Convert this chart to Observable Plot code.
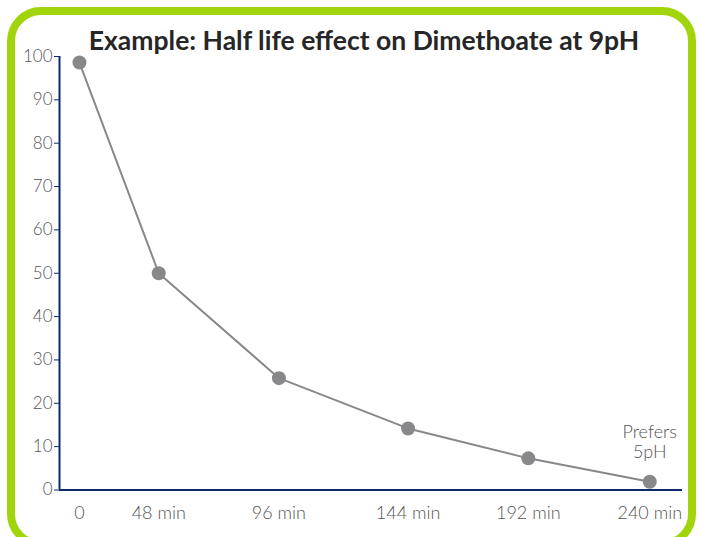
<!DOCTYPE html>
<html><head><meta charset="utf-8">
<script src="https://cdn.jsdelivr.net/npm/d3@7"></script>
<script src="https://cdn.jsdelivr.net/npm/@observablehq/plot@0.6"></script>
<style>
html,body{margin:0;padding:0;background:#fff;overflow:hidden}
#wrap{position:relative;width:701px;height:537px;overflow:hidden;background:#fff}
#frame{position:absolute;left:7px;top:7px;width:673px;height:525px;border:8px solid #a2d40c;border-radius:34px}
#title{position:absolute;left:0;top:24px;width:728px;text-align:center;font-family:Lato,sans-serif;font-weight:700;font-size:26.5px;line-height:32px;color:#262626}
#chart{position:absolute;left:0;top:0}
</style></head>
<body>
<div id="wrap"><div id="frame"></div><div id="chart"></div><div id="title">Example: Half life effect on Dimethoate at 9pH</div></div>
<script>
// Categories (time labels) and their plotted positions
const xLabels = ["0", "48 min", "96 min", "144 min", "192 min", "240 min"];
const xPlot = [17, 48, 95, 145.5, 192.5, 240];
// Remaining percentage
const values = [98.6, 50.0, 25.8, 14.2, 7.3, 1.9];
const yTicks = [0, 10, 20, 30, 40, 50, 60, 70, 80, 90, 100];
const annotation = ["Prefers\n5pH"];

const data = xLabels.map((label, i) => ({label, pos: xPlot[i], value: values[i]}));
const xDomain = [9.2, 252.8];
const navy = "#0b2a6b";
const grey = "#88888b";

const chart = Plot.plot({
  width: 701, height: 537,
  marginLeft: 59, marginRight: 19, marginTop: 56, marginBottom: 47.5,
  style: {fontFamily: "Lato, sans-serif", background: "transparent"},
  x: {type: "linear", domain: xDomain},
  y: {domain: [0, 100]},
  marks: [
    Plot.axisY({ticks: yTicks, tickSize: 5, tickPadding: 2, stroke: navy, fill: "#555", fontSize: 17, fontWeight: 300, label: null}),
    Plot.axisX({ticks: xPlot, tickFormat: d => xLabels[xPlot.indexOf(d)], tickSize: 0, tickPadding: 16, fill: "#555", fontSize: 18, fontWeight: 300, label: null}),
    Plot.ruleX([xDomain[0]], {y1: 0, y2: 100, stroke: navy, strokeWidth: 2}),
    Plot.ruleY([0], {stroke: navy, strokeWidth: 2}),
    Plot.line(data, {x: "pos", y: "value", stroke: grey, strokeWidth: 2}),
    Plot.dot(data, {x: "pos", y: "value", r: 7, fill: grey, stroke: "none"}),
    Plot.text([data[data.length - 1]], {x: "pos", y: "value", text: () => annotation[0], lineAnchor: "bottom", dy: -24, fontSize: 18, fontWeight: 300, fill: "#555", lineHeight: 1.1})
  ]
});
document.getElementById("chart").appendChild(chart);
</script>
</body></html>
